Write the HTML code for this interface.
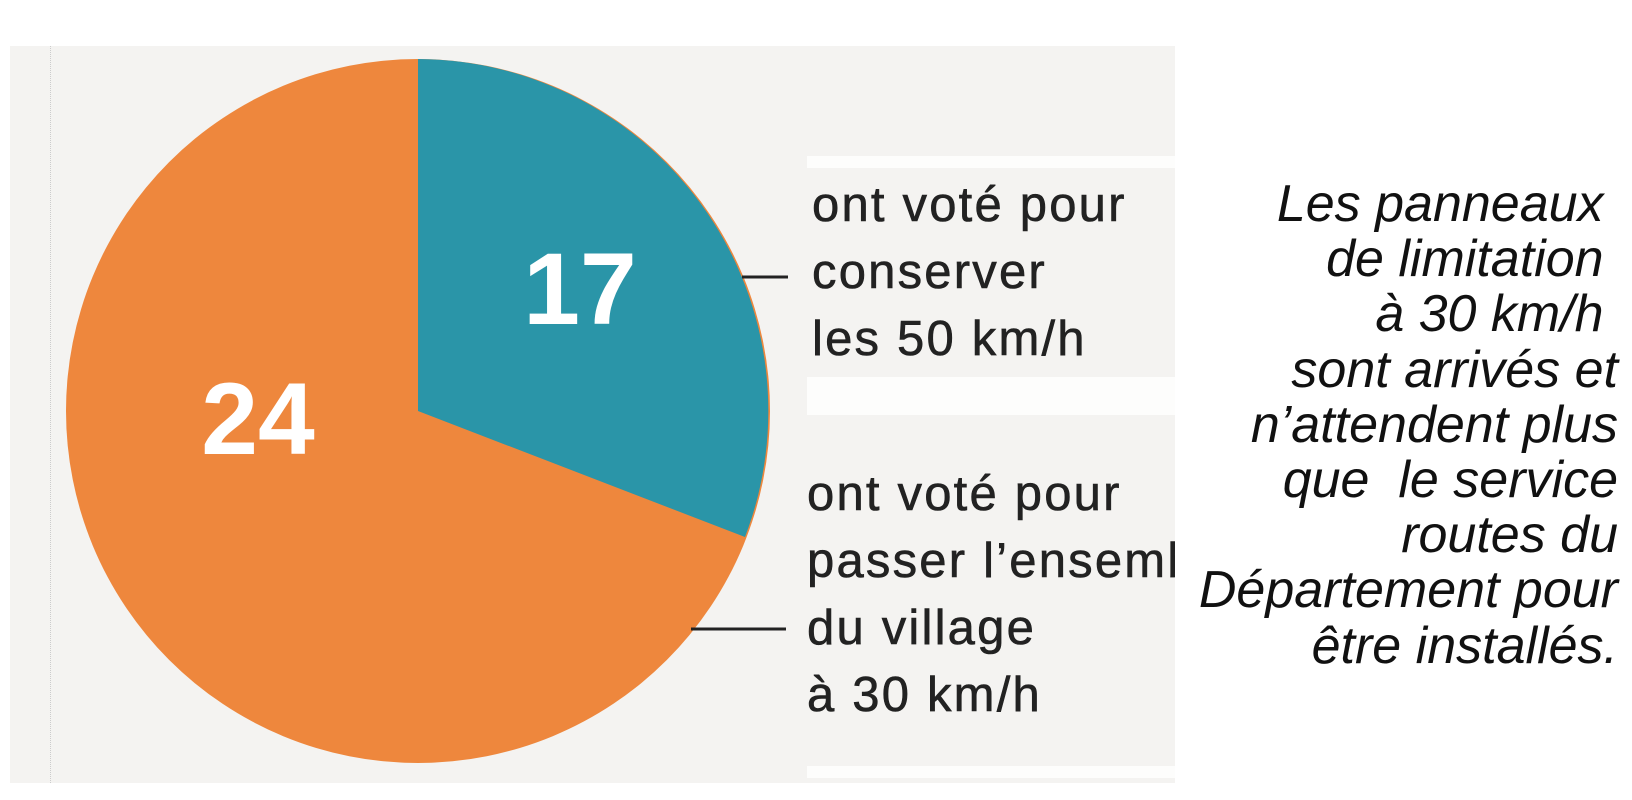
<!DOCTYPE html>
<html><head><meta charset="utf-8"><style>
html,body{margin:0;padding:0;background:#fff;}
body{width:1632px;height:800px;position:relative;overflow:hidden;font-family:"Liberation Sans",sans-serif;}
.panel{position:absolute;left:10px;top:46px;width:1165px;height:737px;background:#f4f3f1;}
.band{position:absolute;background:#fdfdfc;left:807px;width:368px;}
.lab{position:absolute;font-size:49px;letter-spacing:2.2px;color:#222;line-height:67px;white-space:nowrap;-webkit-text-stroke:0.6px #222;}
.right{position:absolute;right:14px;top:177px;text-align:right;font-style:italic;font-size:52px;line-height:55.2px;color:#111;white-space:pre;}
</style></head><body>
<div class="panel"></div>
<div style="position:absolute;left:50px;top:46px;height:737px;border-left:1px dotted #ccc;"></div>
<div class="band" style="top:156px;height:12px"></div>
<div class="band" style="top:377px;height:38px"></div>
<div class="band" style="top:766px;height:12px"></div>
<svg width="1632" height="800" style="position:absolute;left:0;top:0">
<circle cx="418" cy="411" r="352" fill="#ee873d"/>
<path d="M418,411 L418,59 A352,352 0 0 1 745,537 Z" fill="#2a95a8"/>
<text x="580" y="324" font-family="Liberation Sans" font-weight="bold" font-size="102" fill="#fff" text-anchor="middle">17</text>
<text x="258" y="454" font-family="Liberation Sans" font-weight="bold" font-size="102" fill="#fff" text-anchor="middle">24</text>
<line x1="742" y1="277" x2="788" y2="277" stroke="#222" stroke-width="3"/>
<line x1="691" y1="629" x2="786" y2="629" stroke="#222" stroke-width="3"/>
</svg>
<div class="lab" style="left:812px;top:172px">ont voté pour<br>conserver<br>les 50 km/h</div>
<div class="lab" style="left:807px;top:461px;width:368px;overflow:hidden">ont voté pour<br>passer l’ensemble<br>du village<br>à 30 km/h</div>
<div class="right">Les panneaux 
de limitation 
à 30 km/h 
sont arrivés et
n’attendent plus
que  le service
routes du
Département pour
être installés.</div>
</body></html>
